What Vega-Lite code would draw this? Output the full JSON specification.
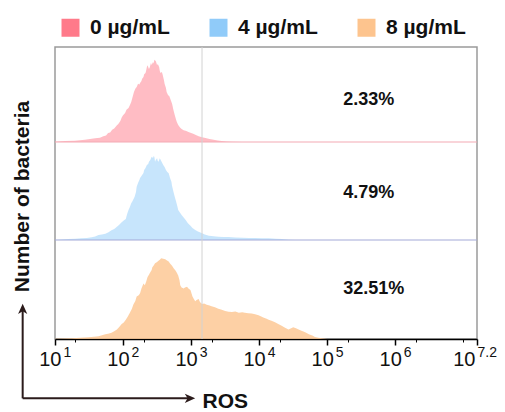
{
  "$schema": "https://vega.github.io/schema/vega-lite/v6.json",
  "width": 422,
  "height": 292,
  "autosize": {"type": "none"},
  "padding": {"left": 55, "top": 47, "right": 28, "bottom": 73},
  "config": {
    "view": {"stroke": "#9a9a9a", "strokeWidth": 1.5},
    "font": "Liberation Sans, Arial, sans-serif"
  },
  "datasets": {
    "hist": [
      {"dose":"0 µg/mL","logROS":1.0,"count":0.3},{"dose":"0 µg/mL","logROS":1.15,"count":1.0},{"dose":"0 µg/mL","logROS":1.29,"count":1.3},{"dose":"0 µg/mL","logROS":1.44,"count":2.3},{"dose":"0 µg/mL","logROS":1.59,"count":3.7},{"dose":"0 µg/mL","logROS":1.66,"count":4.2},{"dose":"0 µg/mL","logROS":1.71,"count":5.7},{"dose":"0 µg/mL","logROS":1.75,"count":6.5},{"dose":"0 µg/mL","logROS":1.78,"count":9},{"dose":"0 µg/mL","logROS":1.81,"count":9.5},{"dose":"0 µg/mL","logROS":1.84,"count":12.3},{"dose":"0 µg/mL","logROS":1.87,"count":13.5},{"dose":"0 µg/mL","logROS":1.91,"count":16.7},{"dose":"0 µg/mL","logROS":1.93,"count":18},{"dose":"0 µg/mL","logROS":1.96,"count":21},{"dose":"0 µg/mL","logROS":1.98,"count":24.5},{"dose":"0 µg/mL","logROS":2.0,"count":26.7},{"dose":"0 µg/mL","logROS":2.03,"count":29},{"dose":"0 µg/mL","logROS":2.05,"count":32.3},{"dose":"0 µg/mL","logROS":2.08,"count":34},{"dose":"0 µg/mL","logROS":2.1,"count":36.7},{"dose":"0 µg/mL","logROS":2.12,"count":40},{"dose":"0 µg/mL","logROS":2.14,"count":45},{"dose":"0 µg/mL","logROS":2.16,"count":50},{"dose":"0 µg/mL","logROS":2.18,"count":53.3},{"dose":"0 µg/mL","logROS":2.2,"count":55},{"dose":"0 µg/mL","logROS":2.22,"count":58.3},{"dose":"0 µg/mL","logROS":2.24,"count":57.5},{"dose":"0 µg/mL","logROS":2.25,"count":59},{"dose":"0 µg/mL","logROS":2.27,"count":61},{"dose":"0 µg/mL","logROS":2.28,"count":63.3},{"dose":"0 µg/mL","logROS":2.3,"count":65},{"dose":"0 µg/mL","logROS":2.31,"count":67.7},{"dose":"0 µg/mL","logROS":2.33,"count":69},{"dose":"0 µg/mL","logROS":2.34,"count":71.7},{"dose":"0 µg/mL","logROS":2.35,"count":75},{"dose":"0 µg/mL","logROS":2.36,"count":76.7},{"dose":"0 µg/mL","logROS":2.38,"count":73},{"dose":"0 µg/mL","logROS":2.39,"count":74.3},{"dose":"0 µg/mL","logROS":2.41,"count":79},{"dose":"0 µg/mL","logROS":2.42,"count":77},{"dose":"0 µg/mL","logROS":2.44,"count":80},{"dose":"0 µg/mL","logROS":2.45,"count":78.5},{"dose":"0 µg/mL","logROS":2.46,"count":82.3},{"dose":"0 µg/mL","logROS":2.48,"count":81},{"dose":"0 µg/mL","logROS":2.49,"count":79},{"dose":"0 µg/mL","logROS":2.5,"count":76.7},{"dose":"0 µg/mL","logROS":2.51,"count":78},{"dose":"0 µg/mL","logROS":2.53,"count":75},{"dose":"0 µg/mL","logROS":2.54,"count":71},{"dose":"0 µg/mL","logROS":2.55,"count":69},{"dose":"0 µg/mL","logROS":2.57,"count":70},{"dose":"0 µg/mL","logROS":2.58,"count":67.7},{"dose":"0 µg/mL","logROS":2.6,"count":62},{"dose":"0 µg/mL","logROS":2.61,"count":58.3},{"dose":"0 µg/mL","logROS":2.63,"count":54},{"dose":"0 µg/mL","logROS":2.64,"count":50},{"dose":"0 µg/mL","logROS":2.66,"count":47},{"dose":"0 µg/mL","logROS":2.68,"count":45.7},{"dose":"0 µg/mL","logROS":2.7,"count":42},{"dose":"0 µg/mL","logROS":2.72,"count":38.3},{"dose":"0 µg/mL","logROS":2.74,"count":32},{"dose":"0 µg/mL","logROS":2.76,"count":26.7},{"dose":"0 µg/mL","logROS":2.78,"count":22},{"dose":"0 µg/mL","logROS":2.79,"count":20},{"dose":"0 µg/mL","logROS":2.81,"count":17},{"dose":"0 µg/mL","logROS":2.84,"count":14.3},{"dose":"0 µg/mL","logROS":2.86,"count":13},{"dose":"0 µg/mL","logROS":2.89,"count":11.7},{"dose":"0 µg/mL","logROS":2.93,"count":11},{"dose":"0 µg/mL","logROS":2.96,"count":10},{"dose":"0 µg/mL","logROS":3.0,"count":9},{"dose":"0 µg/mL","logROS":3.03,"count":8.3},{"dose":"0 µg/mL","logROS":3.07,"count":7},{"dose":"0 µg/mL","logROS":3.11,"count":5.7},{"dose":"0 µg/mL","logROS":3.16,"count":4.8},{"dose":"0 µg/mL","logROS":3.21,"count":4},{"dose":"0 µg/mL","logROS":3.27,"count":3},{"dose":"0 µg/mL","logROS":3.33,"count":2.3},{"dose":"0 µg/mL","logROS":3.39,"count":1.6},{"dose":"0 µg/mL","logROS":3.45,"count":1},{"dose":"0 µg/mL","logROS":3.52,"count":0.6},{"dose":"0 µg/mL","logROS":3.6,"count":0.3},{"dose":"0 µg/mL","logROS":3.75,"count":0},{"dose":"0 µg/mL","logROS":7.2,"count":0},
      {"dose":"4 µg/mL","logROS":1.0,"count":0},{"dose":"4 µg/mL","logROS":1.1,"count":0.5},{"dose":"4 µg/mL","logROS":1.2,"count":1},{"dose":"4 µg/mL","logROS":1.3,"count":1.2},{"dose":"4 µg/mL","logROS":1.39,"count":1.7},{"dose":"4 µg/mL","logROS":1.47,"count":2},{"dose":"4 µg/mL","logROS":1.54,"count":2.7},{"dose":"4 µg/mL","logROS":1.59,"count":3.5},{"dose":"4 µg/mL","logROS":1.64,"count":5},{"dose":"4 µg/mL","logROS":1.69,"count":5.5},{"dose":"4 µg/mL","logROS":1.74,"count":6.3},{"dose":"4 µg/mL","logROS":1.78,"count":7.5},{"dose":"4 µg/mL","logROS":1.83,"count":9.7},{"dose":"4 µg/mL","logROS":1.87,"count":11},{"dose":"4 µg/mL","logROS":1.91,"count":13.3},{"dose":"4 µg/mL","logROS":1.94,"count":15},{"dose":"4 µg/mL","logROS":1.98,"count":17.7},{"dose":"4 µg/mL","logROS":2.01,"count":19.5},{"dose":"4 µg/mL","logROS":2.04,"count":21},{"dose":"4 µg/mL","logROS":2.06,"count":26},{"dose":"4 µg/mL","logROS":2.08,"count":30},{"dose":"4 µg/mL","logROS":2.1,"count":33},{"dose":"4 µg/mL","logROS":2.12,"count":36.7},{"dose":"4 µg/mL","logROS":2.14,"count":39},{"dose":"4 µg/mL","logROS":2.17,"count":43.3},{"dose":"4 µg/mL","logROS":2.19,"count":48},{"dose":"4 µg/mL","logROS":2.2,"count":53.3},{"dose":"4 µg/mL","logROS":2.22,"count":57},{"dose":"4 µg/mL","logROS":2.24,"count":60},{"dose":"4 µg/mL","logROS":2.25,"count":62},{"dose":"4 µg/mL","logROS":2.28,"count":65},{"dose":"4 µg/mL","logROS":2.3,"count":67},{"dose":"4 µg/mL","logROS":2.31,"count":70},{"dose":"4 µg/mL","logROS":2.33,"count":72},{"dose":"4 µg/mL","logROS":2.35,"count":75},{"dose":"4 µg/mL","logROS":2.37,"count":76},{"dose":"4 µg/mL","logROS":2.38,"count":78.3},{"dose":"4 µg/mL","logROS":2.4,"count":80},{"dose":"4 µg/mL","logROS":2.42,"count":83.3},{"dose":"4 µg/mL","logROS":2.44,"count":82},{"dose":"4 µg/mL","logROS":2.45,"count":84},{"dose":"4 µg/mL","logROS":2.46,"count":83},{"dose":"4 µg/mL","logROS":2.47,"count":78.3},{"dose":"4 µg/mL","logROS":2.48,"count":80},{"dose":"4 µg/mL","logROS":2.5,"count":81.7},{"dose":"4 µg/mL","logROS":2.51,"count":79},{"dose":"4 µg/mL","logROS":2.52,"count":78.3},{"dose":"4 µg/mL","logROS":2.53,"count":80},{"dose":"4 µg/mL","logROS":2.54,"count":81.7},{"dose":"4 µg/mL","logROS":2.56,"count":79},{"dose":"4 µg/mL","logROS":2.57,"count":77.7},{"dose":"4 µg/mL","logROS":2.59,"count":75},{"dose":"4 µg/mL","logROS":2.61,"count":73},{"dose":"4 µg/mL","logROS":2.63,"count":70},{"dose":"4 µg/mL","logROS":2.65,"count":68},{"dose":"4 µg/mL","logROS":2.67,"count":66.7},{"dose":"4 µg/mL","logROS":2.69,"count":62},{"dose":"4 µg/mL","logROS":2.71,"count":58.3},{"dose":"4 µg/mL","logROS":2.72,"count":54},{"dose":"4 µg/mL","logROS":2.74,"count":48.3},{"dose":"4 µg/mL","logROS":2.76,"count":43},{"dose":"4 µg/mL","logROS":2.78,"count":38.3},{"dose":"4 µg/mL","logROS":2.8,"count":33},{"dose":"4 µg/mL","logROS":2.81,"count":30},{"dose":"4 µg/mL","logROS":2.84,"count":27},{"dose":"4 µg/mL","logROS":2.86,"count":25},{"dose":"4 µg/mL","logROS":2.89,"count":22.5},{"dose":"4 µg/mL","logROS":2.92,"count":20},{"dose":"4 µg/mL","logROS":2.95,"count":17},{"dose":"4 µg/mL","logROS":2.99,"count":14.3},{"dose":"4 µg/mL","logROS":3.02,"count":12},{"dose":"4 µg/mL","logROS":3.06,"count":10},{"dose":"4 µg/mL","logROS":3.1,"count":8.5},{"dose":"4 µg/mL","logROS":3.16,"count":6.7},{"dose":"4 µg/mL","logROS":3.2,"count":5.5},{"dose":"4 µg/mL","logROS":3.26,"count":4.3},{"dose":"4 µg/mL","logROS":3.33,"count":3.8},{"dose":"4 µg/mL","logROS":3.4,"count":3.3},{"dose":"4 µg/mL","logROS":3.47,"count":3.1},{"dose":"4 µg/mL","logROS":3.55,"count":3},{"dose":"4 µg/mL","logROS":3.65,"count":2.6},{"dose":"4 µg/mL","logROS":3.75,"count":2.3},{"dose":"4 µg/mL","logROS":3.85,"count":2.1},{"dose":"4 µg/mL","logROS":3.94,"count":2},{"dose":"4 µg/mL","logROS":4.04,"count":1.8},{"dose":"4 µg/mL","logROS":4.14,"count":1.7},{"dose":"4 µg/mL","logROS":4.24,"count":1.3},{"dose":"4 µg/mL","logROS":4.33,"count":1},{"dose":"4 µg/mL","logROS":4.43,"count":0.3},{"dose":"4 µg/mL","logROS":4.53,"count":0},{"dose":"4 µg/mL","logROS":7.2,"count":0},
      {"dose":"8 µg/mL","logROS":1.0,"count":0.3},{"dose":"8 µg/mL","logROS":1.12,"count":0.5},{"dose":"8 µg/mL","logROS":1.25,"count":0.7},{"dose":"8 µg/mL","logROS":1.37,"count":1.2},{"dose":"8 µg/mL","logROS":1.49,"count":1.7},{"dose":"8 µg/mL","logROS":1.57,"count":2.2},{"dose":"8 µg/mL","logROS":1.64,"count":2.7},{"dose":"8 µg/mL","logROS":1.69,"count":3.8},{"dose":"8 µg/mL","logROS":1.74,"count":5},{"dose":"8 µg/mL","logROS":1.78,"count":5.5},{"dose":"8 µg/mL","logROS":1.83,"count":6.3},{"dose":"8 µg/mL","logROS":1.87,"count":8},{"dose":"8 µg/mL","logROS":1.91,"count":9.7},{"dose":"8 µg/mL","logROS":1.94,"count":12},{"dose":"8 µg/mL","logROS":1.98,"count":15.3},{"dose":"8 µg/mL","logROS":2.01,"count":17},{"dose":"8 µg/mL","logROS":2.04,"count":19.7},{"dose":"8 µg/mL","logROS":2.07,"count":23},{"dose":"8 µg/mL","logROS":2.1,"count":27},{"dose":"8 µg/mL","logROS":2.13,"count":31},{"dose":"8 µg/mL","logROS":2.15,"count":35.3},{"dose":"8 µg/mL","logROS":2.18,"count":39},{"dose":"8 µg/mL","logROS":2.2,"count":43.7},{"dose":"8 µg/mL","logROS":2.23,"count":45},{"dose":"8 µg/mL","logROS":2.25,"count":47},{"dose":"8 µg/mL","logROS":2.27,"count":52},{"dose":"8 µg/mL","logROS":2.3,"count":57},{"dose":"8 µg/mL","logROS":2.32,"count":55.3},{"dose":"8 µg/mL","logROS":2.34,"count":59},{"dose":"8 µg/mL","logROS":2.36,"count":63.7},{"dose":"8 µg/mL","logROS":2.38,"count":66},{"dose":"8 µg/mL","logROS":2.4,"count":68.7},{"dose":"8 µg/mL","logROS":2.42,"count":71},{"dose":"8 µg/mL","logROS":2.43,"count":73.7},{"dose":"8 µg/mL","logROS":2.45,"count":75.5},{"dose":"8 µg/mL","logROS":2.47,"count":77.7},{"dose":"8 µg/mL","logROS":2.5,"count":79},{"dose":"8 µg/mL","logROS":2.52,"count":80.3},{"dose":"8 µg/mL","logROS":2.54,"count":81.5},{"dose":"8 µg/mL","logROS":2.56,"count":83},{"dose":"8 µg/mL","logROS":2.59,"count":82.5},{"dose":"8 µg/mL","logROS":2.62,"count":82},{"dose":"8 µg/mL","logROS":2.64,"count":81},{"dose":"8 µg/mL","logROS":2.67,"count":79.7},{"dose":"8 µg/mL","logROS":2.69,"count":77.5},{"dose":"8 µg/mL","logROS":2.72,"count":75.3},{"dose":"8 µg/mL","logROS":2.74,"count":73},{"dose":"8 µg/mL","logROS":2.77,"count":70.3},{"dose":"8 µg/mL","logROS":2.79,"count":68},{"dose":"8 µg/mL","logROS":2.81,"count":65.3},{"dose":"8 µg/mL","logROS":2.83,"count":60},{"dose":"8 µg/mL","logROS":2.84,"count":55.3},{"dose":"8 µg/mL","logROS":2.86,"count":53},{"dose":"8 µg/mL","logROS":2.89,"count":52},{"dose":"8 µg/mL","logROS":2.91,"count":53},{"dose":"8 µg/mL","logROS":2.94,"count":53.7},{"dose":"8 µg/mL","logROS":2.96,"count":52},{"dose":"8 µg/mL","logROS":2.99,"count":50.3},{"dose":"8 µg/mL","logROS":3.02,"count":43.7},{"dose":"8 µg/mL","logROS":3.04,"count":41},{"dose":"8 µg/mL","logROS":3.06,"count":38.7},{"dose":"8 µg/mL","logROS":3.08,"count":40},{"dose":"8 µg/mL","logROS":3.11,"count":41},{"dose":"8 µg/mL","logROS":3.13,"count":38},{"dose":"8 µg/mL","logROS":3.16,"count":36},{"dose":"8 µg/mL","logROS":3.19,"count":36.5},{"dose":"8 µg/mL","logROS":3.23,"count":35.3},{"dose":"8 µg/mL","logROS":3.27,"count":34.5},{"dose":"8 µg/mL","logROS":3.3,"count":33.7},{"dose":"8 µg/mL","logROS":3.35,"count":32.5},{"dose":"8 µg/mL","logROS":3.4,"count":31},{"dose":"8 µg/mL","logROS":3.45,"count":30},{"dose":"8 µg/mL","logROS":3.5,"count":28.7},{"dose":"8 µg/mL","logROS":3.55,"count":28},{"dose":"8 µg/mL","logROS":3.6,"count":27.7},{"dose":"8 µg/mL","logROS":3.65,"count":28.2},{"dose":"8 µg/mL","logROS":3.7,"count":27},{"dose":"8 µg/mL","logROS":3.75,"count":27.5},{"dose":"8 µg/mL","logROS":3.79,"count":27},{"dose":"8 µg/mL","logROS":3.84,"count":26.5},{"dose":"8 µg/mL","logROS":3.89,"count":26.3},{"dose":"8 µg/mL","logROS":3.94,"count":25.5},{"dose":"8 µg/mL","logROS":3.99,"count":24.3},{"dose":"8 µg/mL","logROS":4.03,"count":23},{"dose":"8 µg/mL","logROS":4.06,"count":22},{"dose":"8 µg/mL","logROS":4.1,"count":21},{"dose":"8 µg/mL","logROS":4.14,"count":19.7},{"dose":"8 µg/mL","logROS":4.19,"count":18.5},{"dose":"8 µg/mL","logROS":4.24,"count":17},{"dose":"8 µg/mL","logROS":4.28,"count":15.5},{"dose":"8 µg/mL","logROS":4.33,"count":13.7},{"dose":"8 µg/mL","logROS":4.38,"count":11.5},{"dose":"8 µg/mL","logROS":4.43,"count":9.7},{"dose":"8 µg/mL","logROS":4.47,"count":11},{"dose":"8 µg/mL","logROS":4.5,"count":12},{"dose":"8 µg/mL","logROS":4.54,"count":11},{"dose":"8 µg/mL","logROS":4.58,"count":9.7},{"dose":"8 µg/mL","logROS":4.62,"count":8.5},{"dose":"8 µg/mL","logROS":4.65,"count":7.7},{"dose":"8 µg/mL","logROS":4.69,"count":6.5},{"dose":"8 µg/mL","logROS":4.73,"count":5},{"dose":"8 µg/mL","logROS":4.78,"count":3.5},{"dose":"8 µg/mL","logROS":4.82,"count":2},{"dose":"8 µg/mL","logROS":4.87,"count":1.2},{"dose":"8 µg/mL","logROS":4.92,"count":0.7},{"dose":"8 µg/mL","logROS":5.0,"count":0}
    ],
    "pct": [
      {"dose": "0 µg/mL", "pct": "2.33%"},
      {"dose": "4 µg/mL", "pct": "4.79%"},
      {"dose": "8 µg/mL", "pct": "32.51%"}
    ]
  },
  "layer": [
    {
      "layer": [
        {
          "data": {"name": "hist"},
          "transform": [{"filter": "datum.dose === '0 µg/mL'"}],
          "mark": {"type": "area", "fillOpacity": 0.5, "interpolate": "linear"},
          "encoding": {
            "x": {
              "field": "logROS", "type": "quantitative",
              "scale": {"domain": [1, 7.2], "nice": false, "zero": false},
              "axis": {
                "orient": "bottom", "values": [1, 2, 3, 4, 5, 6, 7.2],
                "labelExpr": "'10'", "labelFontSize": 20, "labelAlign": "right",
                "labelOffset": {"condition": {"test": "datum.value > 7", "value": -2}, "value": 6},
                "labelPadding": 4, "labelFlush": false, "labelOverlap": false, "labelBound": false,
                "labelColor": "#111",
                "tickSize": 6, "tickWidth": 1.5, "tickColor": "#000",
                "domainColor": "#000", "domainWidth": 1.5, "grid": false,
                "title": "ROS", "titleFontSize": 21, "titleFontWeight": "bold", "titleColor": "#111",
                "titleAlign": "left", "titleBaseline": "alphabetic", "titleX": 147, "titleY": 68
              }
            },
            "y": {"field": "count", "type": "quantitative", "scale": {"domain": [-197, 95]}, "axis": null},
            "color": {
              "field": "dose", "type": "nominal",
              "scale": {"domain": ["0 µg/mL", "4 µg/mL", "8 µg/mL"], "range": ["#ff7a8a", "#90cbf9", "#fdc48e"]},
              "legend": {
                "orient": "none", "legendX": 5, "legendY": -30, "direction": "horizontal",
                "title": null, "symbolType": "square", "symbolSize": 324, "symbolStrokeWidth": 0,
                "symbolOpacity": 1, "labelFontSize": 21, "labelFontWeight": "bold", "labelColor": "#111",
                "labelOffset": 9, "columnPadding": 38
              }
            }
          }
        },
        {
          "data": {"name": "pct"},
          "transform": [{"filter": "datum.dose === '0 µg/mL'"}],
          "mark": {"type": "text", "align": "left", "baseline": "middle", "fontSize": 18, "fontWeight": "bold", "color": "#111"},
          "encoding": {
            "x": {"datum": 5.235},
            "y": {"datum": 42.5, "scale": {"domain": [-197, 95]}, "axis": null},
            "text": {"field": "pct"}
          }
        },
        {
          "data": {"values": [{}]},
          "mark": {"type": "rule", "color": "#f3a9b4", "strokeWidth": 1.2},
          "encoding": {"y": {"datum": 0, "scale": {"domain": [-197, 95]}, "axis": null}}
        }
      ]
    },
    {
      "layer": [
        {
          "data": {"name": "hist"},
          "transform": [{"filter": "datum.dose === '4 µg/mL'"}],
          "mark": {"type": "area", "fillOpacity": 0.5, "interpolate": "linear"},
          "encoding": {
            "x": {
              "field": "logROS", "type": "quantitative",
              "scale": {"domain": [1, 7.2], "nice": false, "zero": false},
              "axis": {
                "orient": "bottom", "values": [1, 2, 3, 4, 5, 6, 7.2],
                "labelExpr": "datum.value > 7 ? '7.2' : format(datum.value, 'd')",
                "labelFontSize": 14, "labelAlign": "left",
                "labelOffset": {"condition": {"test": "datum.value > 7", "value": 0}, "value": 8},
                "labelPadding": 6, "labelFlush": false, "labelOverlap": false, "labelBound": false,
                "labelColor": "#111", "ticks": false, "tickSize": 0, "domain": false, "grid": false, "title": null
              }
            },
            "y": {"field": "count", "type": "quantitative", "scale": {"domain": [-99, 193]}, "axis": null},
            "color": {"field": "dose", "type": "nominal"}
          }
        },
        {
          "data": {"name": "pct"},
          "transform": [{"filter": "datum.dose === '4 µg/mL'"}],
          "mark": {"type": "text", "align": "left", "baseline": "middle", "fontSize": 18, "fontWeight": "bold", "color": "#111"},
          "encoding": {
            "x": {"datum": 5.235},
            "y": {"datum": 47, "scale": {"domain": [-99, 193]}, "axis": null},
            "text": {"field": "pct"}
          }
        },
        {
          "data": {"values": [{}]},
          "mark": {"type": "rule", "color": "#a3aad8", "strokeWidth": 1.2},
          "encoding": {"y": {"datum": 0, "scale": {"domain": [-99, 193]}, "axis": null}}
        }
      ]
    },
    {
      "layer": [
        {
          "data": {"name": "hist"},
          "transform": [{"filter": "datum.dose === '8 µg/mL'"}],
          "mark": {"type": "area", "fillOpacity": 0.8, "interpolate": "linear"},
          "encoding": {
            "x": {
              "field": "logROS", "type": "quantitative",
              "scale": {"domain": [1, 7.2], "nice": false, "zero": false},
              "axis": {
                "orient": "bottom",
                "values": [1.301,1.477,1.602,1.699,1.778,1.845,1.903,1.954,2.301,2.477,2.602,2.699,2.778,2.845,2.903,2.954,3.301,3.477,3.602,3.699,3.778,3.845,3.903,3.954,4.301,4.477,4.602,4.699,4.778,4.845,4.903,4.954,5.301,5.477,5.602,5.699,5.778,5.845,5.903,5.954,6.301,6.477,6.602,6.699,6.778,6.845,6.903,6.954,7.0],
                "labels": false, "tickSize": 3, "tickWidth": 1, "tickColor": "#000",
                "domain": false, "grid": false, "title": null
              }
            },
            "y": {
              "field": "count", "type": "quantitative", "scale": {"domain": [0, 292]},
              "axis": {
                "orient": "left", "labels": false, "ticks": false, "domain": false, "grid": false,
                "title": "Number of bacteria", "titleFontSize": 21, "titleFontWeight": "bold", "titleColor": "#111",
                "titleAngle": 270, "titleAlign": "center", "titleBaseline": "middle", "titleX": -33, "titleY": 149
              }
            },
            "color": {"field": "dose", "type": "nominal"}
          }
        },
        {
          "data": {"name": "pct"},
          "transform": [{"filter": "datum.dose === '8 µg/mL'"}],
          "mark": {"type": "text", "align": "left", "baseline": "middle", "fontSize": 18, "fontWeight": "bold", "color": "#111"},
          "encoding": {
            "x": {"datum": 5.235},
            "y": {"datum": 51.5},
            "text": {"field": "pct"}
          }
        },
        {
          "data": {"values": [{}]},
          "mark": {"type": "rule", "color": "#2b1b1b", "strokeWidth": 2},
          "encoding": {"x": {"datum": 0.525}, "y": {"datum": -61}, "y2": {"datum": 30}}
        },
        {
          "data": {"values": [{}]},
          "mark": {"type": "rule", "color": "#2b1b1b", "strokeWidth": 2},
          "encoding": {"x": {"datum": 0.525}, "x2": {"datum": 2.97}, "y": {"datum": -61}}
        },
        {
          "data": {"values": [{}]},
          "mark": {"type": "point", "shape": "M0,-1L-0.75,0.7L0,0.25L0.75,0.7Z", "filled": true, "size": 150, "color": "#2b1b1b", "opacity": 1},
          "encoding": {"x": {"datum": 0.525}, "y": {"datum": 30}}
        },
        {
          "data": {"values": [{}]},
          "mark": {"type": "point", "shape": "M0,-1L-0.75,0.7L0,0.25L0.75,0.7Z", "filled": true, "size": 150, "color": "#2b1b1b", "opacity": 1, "angle": 90},
          "encoding": {"x": {"datum": 2.97}, "y": {"datum": -61}}
        }
      ]
    },
    {
      "data": {"values": [{}]},
      "mark": {"type": "rule", "color": "#d2d2d2", "strokeWidth": 1},
      "encoding": {"x": {"datum": 3.16, "axis": null}}
    }
  ],
  "resolve": {"scale": {"y": "independent"}, "axis": {"x": "independent", "y": "independent"}}
}
